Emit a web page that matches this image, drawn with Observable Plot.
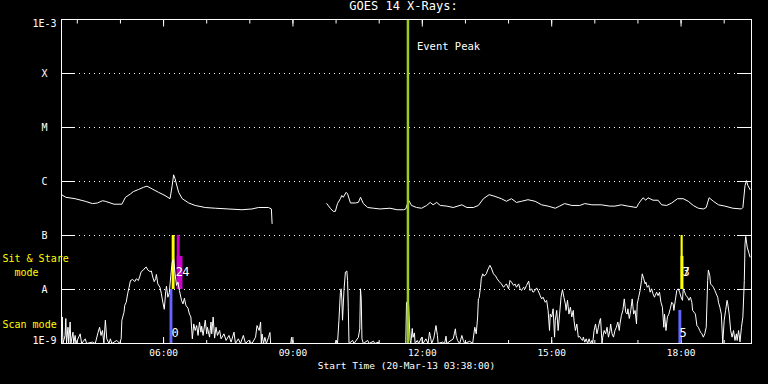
<!DOCTYPE html>
<html><head><meta charset="utf-8">
<script src="https://cdn.jsdelivr.net/npm/d3@7"></script>
<script src="https://cdn.jsdelivr.net/npm/@observablehq/plot@0.6"></script>
<style>
html,body{margin:0;padding:0;background:#000;}
svg text{white-space:pre;}
</style>
</head><body><div id="chart"></div>
<script>
const title = "GOES 14 X-Rays:";
const xLabel = "Start Time (20-Mar-13 03:38:00)";
const day = "2013-03-20";
const startTime = "03:38", endTime = "19:38";
const eventPeak = "11:40";
const eventLabel = "Event Peak";
const yLevels = [1e-9, 1e-8, 1e-7, 1e-6, 1e-5, 1e-4, 1e-3];
const yLabels = ["1E-9", "A", "B", "C", "M", "X", "1E-3"];
const majorTicks = ["06:00", "09:00", "12:00", "15:00", "18:00"];
const minorTicks = ["04:00","05:00","06:00","07:00","08:00","09:00","10:00","11:00","12:00","13:00","14:00","15:00","16:00","17:00","18:00","19:00"];

// GOES 1-8 A channel (upper curve): [time, flux W/m2]
const longChannel = [
["03:38",5.7e-7],["03:44",5.1e-7],["03:57",4.8e-7],["04:11",4.3e-7],["04:21",3.9e-7],["04:28",4.0e-7],
["04:35",4.4e-7],["04:39",4.3e-7],["04:51",3.8e-7],["05:02",3.8e-7],["05:07",5.1e-7],["05:14",5.9e-7],
["05:18",6.5e-7],["05:25",7.1e-7],["05:32",7.8e-7],["05:37",8.2e-7],["05:44",7.3e-7],["05:53",6.3e-7],
["06:02",5.5e-7],["06:09",4.8e-7],["06:12",8.4e-7],["06:14",1.33e-6],["06:16",1.12e-6],["06:21",6.3e-7],
["06:26",4.8e-7],["06:35",4.0e-7],["06:44",3.6e-7],["06:58",3.3e-7],["07:12",3.2e-7],["07:30",3.1e-7],
["07:49",3.0e-7],["08:03",3.1e-7],["08:12",3.3e-7],["08:26",3.3e-7],["08:30",3.1e-7],["08:31",1.67e-7],
["08:32",null],
["09:47",3.9e-7],["09:52",3.2e-7],["09:56",2.8e-7],["09:59",2.8e-7],["10:02",3.9e-7],["10:06",4.8e-7],
["10:08",5.5e-7],["10:10",5.1e-7],["10:14",6.3e-7],["10:16",5.9e-7],["10:20",4.0e-7],["10:27",4.0e-7],
["10:31",4.1e-7],["10:34",5.1e-7],["10:38",3.9e-7],["10:44",3.3e-7],["10:52",3.2e-7],["11:01",3.1e-7],
["11:15",3.2e-7],["11:25",3.0e-7],["11:34",3.0e-7],["11:37",3.1e-7],["11:41",4.5e-7],["11:45",3.6e-7],
["11:52",3.3e-7],["11:59",3.2e-7],["12:06",3.6e-7],["12:11",4.1e-7],["12:15",3.7e-7],["12:20",4.1e-7],
["12:25",3.6e-7],["12:34",3.5e-7],["12:43",3.3e-7],["12:55",3.7e-7],["13:02",3.3e-7],["13:11",3.3e-7],
["13:18",3.6e-7],["13:25",4.8e-7],["13:33",5.7e-7],["13:41",5.3e-7],["13:50",4.8e-7],["13:57",4.3e-7],
["14:04",4.8e-7],["14:11",4.1e-7],["14:18",4.3e-7],["14:27",4.6e-7],["14:37",4.3e-7],["14:46",3.7e-7],
["14:55",3.5e-7],["15:05",3.2e-7],["15:11",3.5e-7],["15:18",3.9e-7],["15:28",3.6e-7],["15:39",3.6e-7],
["15:46",3.9e-7],["15:56",3.7e-7],["16:09",3.7e-7],["16:21",3.5e-7],["16:28",3.5e-7],["16:37",3.7e-7],
["16:46",3.5e-7],["16:58",3.3e-7],["17:01",3.9e-7],["17:07",5.0e-7],["17:11",4.5e-7],["17:14",5.0e-7],
["17:21",4.5e-7],["17:28",4.5e-7],["17:33",3.7e-7],["17:40",3.6e-7],["17:47",4.0e-7],["17:55",4.8e-7],
["18:03",4.8e-7],["18:10",4.3e-7],["18:17",3.6e-7],["18:24",3.2e-7],["18:31",3.1e-7],["18:35",3.3e-7],
["18:39",5.0e-7],["18:45",4.3e-7],["18:52",3.7e-7],["19:01",3.5e-7],["19:12",3.2e-7],["19:24",3.1e-7],
["19:26",3.3e-7],["19:29",8.4e-7],["19:31",1.04e-6],["19:33",8.4e-7],["19:36",7.1e-7]
];

// GOES 0.5-4 A channel (lower curve): [time, flux W/m2]
const shortChannel = [
["03:38",1e-9],["03:39",3.1e-9],["03:40",1e-9],["03:43",1.41e-9],["03:44",2.9e-9],["03:45",1e-9],
["03:47",2.0e-9],["03:48",1e-9],["03:50",2.5e-9],["03:51",1e-9],["03:54",1.62e-9],["03:55",1e-9],
["03:57",1.41e-9],["03:58",1e-9],["04:04",1.51e-9],["04:06",1e-9],["04:11",1.22e-9],["04:13",1e-9],
["04:21",1.06e-9],["04:25",1e-9],["04:29",1.62e-9],["04:31",2.0e-9],["04:33",1.41e-9],["04:35",1.74e-9],
["04:37",1e-9],["04:39",2.7e-9],["04:41",1.22e-9],["04:44",1e-9],["04:46",1.22e-9],["04:48",1e-9],
["04:55",1.14e-9],["04:59",1e-9],["05:01",1.22e-9],["05:02",2.7e-9],["05:05",3.8e-9],["05:06",5.1e-9],
["05:08",5.8e-9],["05:10",8.3e-9],["05:12",1.1e-8],["05:14",1.47e-8],["05:17",1.53e-8],["05:20",1.4e-8],
["05:22",1.58e-8],["05:25",1.47e-8],["05:27",1.77e-8],["05:29",2.15e-8],["05:32",2.3e-8],["05:34",2.5e-8],
["05:36",2.6e-8],["05:38",2.3e-8],["05:41",2.15e-8],["05:43",2.2e-8],["05:45",1.7e-8],["05:47",1.4e-8],
["05:49",1.58e-8],["05:50",1.9e-8],["05:52",1.27e-8],["05:55",1.1e-8],["05:57",8.3e-9],["05:59",5.8e-9],
["06:01",4.3e-9],["06:03",9.2e-9],["06:04",1.15e-8],["06:06",7.2e-9],["06:08",8.7e-9],["06:10",1.8e-8],
["06:12",3.2e-8],["06:14",3.7e-8],["06:16",1.95e-8],["06:18",1.19e-8],["06:20",1.37e-8],["06:22",9.6e-9],
["06:25",6.3e-9],["06:27",5.4e-9],["06:29",6.9e-9],["06:31",5.1e-9],["06:34",4.5e-9],["06:36",3.5e-9],
["06:38",3.1e-9],["06:40",1.22e-9],["06:42",2.3e-9],["06:44",1.74e-9],["06:46",2.15e-9],["06:48",1.41e-9],
["06:50",2.5e-9],["06:52",1.62e-9],["06:53",2.1e-9],["06:55",1.41e-9],["06:58",2.7e-9],["07:00",1.51e-9],
["07:01",2.0e-9],["07:04",1.31e-9],["07:06",2.5e-9],["07:07",1.51e-9],["07:09",3.1e-9],["07:11",1.26e-9],
["07:13",2.0e-9],["07:15",1.41e-9],["07:18",1.74e-9],["07:20",1.22e-9],["07:24",1.51e-9],["07:27",1.14e-9],
["07:31",1.41e-9],["07:34",1.06e-9],["07:38",1.62e-9],["07:40",1e-9],["07:44",1.22e-9],["07:47",1e-9],
["07:51",1.41e-9],["07:54",1e-9],["07:58",1.14e-9],["08:03",1e-9],["08:08",1.31e-9],["08:10",2.15e-9],
["08:13",1.74e-9],["08:15",2.5e-9],["08:16",1e-9],["08:17",1.5e-9],["08:19",1e-9],["08:21",1.3e-9],
["08:23",1e-9],["08:26",1.3e-9],["08:28",1.6e-9],["08:29",1e-9],["08:57",1e-9],["08:58",1.3e-9],
["08:59",1e-9],["09:59",1e-9],["10:00",1.14e-9],["10:02",1e-9],["10:04",2.7e-9],["10:06",8.8e-9],
["10:07",1.03e-8],["10:08",6.7e-9],["10:09",2.7e-9],["10:11",9.6e-9],["10:13",2.1e-8],["10:15",2.2e-8],
["10:16",1.47e-8],["10:17",4.7e-9],["10:18",1e-9],["10:23",1.14e-9],["10:25",1e-9],["10:31",1.3e-9],
["10:33",1.87e-9],["10:34",1.03e-8],["10:35",6.7e-9],["10:36",1.22e-9],["10:38",1e-9],["10:44",1.14e-9],
["10:46",1e-9],["10:52",1.1e-9],["10:54",1e-9],["10:59",1.06e-9],["11:00",1e-9],["11:37",1e-9],
["11:38",5.8e-9],["11:39",5.8e-9],["11:41",5.1e-9],["11:43",1.14e-9],["11:44",1e-9],["11:46",1.9e-9],
["11:47",1.3e-9],["11:49",1.57e-9],["11:50",1e-9],["11:53",1.14e-9],["11:55",1e-9],["11:59",1.3e-9],
["12:01",1e-9],["12:05",1.22e-9],["12:08",1e-9],["12:10",1.62e-9],["12:11",1.41e-9],["12:13",1e-9],
["12:16",1.26e-9],["12:19",2.15e-9],["12:21",1.41e-9],["12:22",1e-9],["12:28",1.06e-9],["12:31",1e-9],
["12:33",1.37e-9],["12:34",1e-9],["12:43",1.22e-9],["12:46",1.87e-9],["12:47",1.41e-9],["12:49",1.14e-9],
["12:52",1e-9],["12:55",1.41e-9],["12:57",1.14e-9],["12:59",1e-9],["13:06",1.1e-9],["13:10",1e-9],
["13:13",2.0e-9],["13:15",1.51e-9],["13:17",3.1e-9],["13:18",6.7e-9],["13:19",6.9e-9],["13:21",1.1e-8],
["13:22",1.58e-8],["13:24",1.95e-8],["13:26",1.77e-8],["13:29",1.95e-8],["13:31",2.3e-8],["13:34",2.8e-8],
["13:36",2.5e-8],["13:39",1.95e-8],["13:42",1.77e-8],["13:44",1.58e-8],["13:47",1.4e-8],["13:50",1.27e-8],
["13:53",1.1e-8],["13:55",1.19e-8],["13:57",1.27e-8],["14:00",1.03e-8],["14:02",1.47e-8],["14:04",1.37e-8],
["14:07",1.19e-8],["14:09",1.27e-8],["14:11",1.1e-8],["14:14",1.27e-8],["14:16",1.03e-8],["14:18",9.6e-9],
["14:21",1.1e-8],["14:23",1.03e-8],["14:25",1.19e-8],["14:28",1.43e-8],["14:30",9.6e-9],["14:32",1.03e-8],
["14:34",8.9e-9],["14:37",9.6e-9],["14:39",1.07e-8],["14:41",9.6e-9],["14:44",7.7e-9],["14:46",6.7e-9],
["14:48",7.2e-9],["14:51",5.8e-9],["14:53",6.3e-9],["14:55",4.1e-9],["14:57",1.74e-9],["14:58",3.5e-9],
["15:00",3.1e-9],["15:02",4.4e-9],["15:04",1.31e-9],["15:05",2.7e-9],["15:07",4.1e-9],["15:09",1.74e-9],
["15:11",3.5e-9],["15:13",7.2e-9],["15:15",9.9e-9],["15:17",7.2e-9],["15:19",5.4e-9],["15:20",4.1e-9],
["15:22",6.3e-9],["15:24",3.5e-9],["15:26",4.7e-9],["15:28",3.1e-9],["15:30",4.1e-9],["15:31",2.7e-9],
["15:33",1.74e-9],["15:35",2.3e-9],["15:37",1.31e-9],["15:39",1.35e-9],["15:41",1.22e-9],["15:43",1.14e-9],
["15:44",1.31e-9],["15:46",1.06e-9],["15:48",1.22e-9],["15:50",1e-9],["15:52",1.22e-9],["15:54",1e-9],
["15:56",1.14e-9],["15:57",1e-9],["15:59",1.74e-9],["16:01",2.3e-9],["16:03",1.51e-9],["16:05",2.0e-9],
["16:07",2.7e-9],["16:08",2.9e-9],["16:10",1e-9],["16:11",1.31e-9],["16:13",1.74e-9],["16:15",1.51e-9],
["16:17",2.0e-9],["16:19",1.31e-9],["16:21",1.74e-9],["16:22",2.3e-9],["16:24",1.51e-9],["16:26",1.31e-9],
["16:28",1.74e-9],["16:30",2.0e-9],["16:32",2.5e-9],["16:34",1.74e-9],["16:35",2.3e-9],["16:37",3.3e-9],
["16:39",4.1e-9],["16:41",6.7e-9],["16:43",3.8e-9],["16:45",3.5e-9],["16:46",4.4e-9],["16:48",2.9e-9],
["16:50",4.1e-9],["16:52",6.7e-9],["16:54",3.5e-9],["16:56",4.1e-9],["16:58",2.3e-9],["16:59",5.4e-9],
["17:01",7.2e-9],["17:03",9.6e-9],["17:05",1.47e-8],["17:06",1.95e-8],["17:08",1.58e-8],["17:10",1.27e-8],
["17:11",1.37e-8],["17:13",1.1e-8],["17:15",1.19e-8],["17:17",8.9e-9],["17:19",1.03e-8],["17:21",8.3e-9],
["17:23",7.2e-9],["17:24",7.7e-9],["17:26",8.9e-9],["17:28",7.7e-9],["17:30",8.9e-9],["17:32",5.8e-9],
["17:34",4.7e-9],["17:36",2.0e-9],["17:37",3.5e-9],["17:39",1.74e-9],["17:41",3.1e-9],["17:43",3.5e-9],
["17:45",4.4e-9],["17:47",5.8e-9],["17:49",5.4e-9],["17:50",4.1e-9],["17:52",6.3e-9],["17:54",9.6e-9],
["17:56",1.03e-8],["17:58",8.9e-9],["18:00",7.2e-9],["18:02",6.3e-9],["18:03",1.03e-8],["18:05",8.9e-9],
["18:07",7.7e-9],["18:09",7.2e-9],["18:11",6.3e-9],["18:13",7.2e-9],["18:15",5.8e-9],["18:16",4.1e-9],
["18:18",3.8e-9],["18:20",3.5e-9],["18:22",2.15e-9],["18:24",2.0e-9],["18:26",1.74e-9],["18:27",1.62e-9],
["18:29",1.51e-9],["18:31",1.31e-9],["18:33",1.51e-9],["18:35",2.0e-9],["18:37",1.47e-8],["18:38",2.3e-8],
["18:40",1.8e-8],["18:41",1.27e-8],["18:43",1.19e-8],["18:45",1.1e-8],["18:47",9.6e-9],["18:49",8.3e-9],
["18:51",7.2e-9],["18:52",5.8e-9],["18:54",4.7e-9],["18:56",3.5e-9],["18:58",1e-9],["19:00",2.7e-9],
["19:02",4.1e-9],["19:04",6.3e-9],["19:05",5.4e-9],["19:07",3.5e-9],["19:09",1.74e-9],["19:11",1.31e-9],
["19:13",1.74e-9],["19:15",1.14e-9],["19:17",1.51e-9],["19:18",1.14e-9],["19:20",1.74e-9],["19:22",1.07e-9],
["19:24",2.0e-9],["19:26",3.1e-9],["19:28",1.47e-8],["19:29",7.0e-8],["19:30",9.6e-8],["19:32",6.1e-8],
["19:34",4.9e-8],["19:36",4.0e-8]
];

// Observation bars: kind, start, end, low flux, high flux
const observations = [
  {kind: "scan", start: "06:09", end: "06:13", low: 1e-9, high: 1e-8},
  {kind: "sitstare1", start: "06:12", end: "06:16", low: 1e-8, high: 1e-7},
  {kind: "sitstare2", start: "06:19", end: "06:23", low: 1e-8, high: 1e-7},
  {kind: "sitstare2", start: "06:19", end: "06:27", low: 1e-8, high: 4.1e-8},
  {kind: "scan", start: "17:57", end: "18:01", low: 1e-9, high: 4.1e-9},
  {kind: "sitstare1", start: "18:00", end: "18:03", low: 1e-8, high: 1e-7},
  {kind: "sitstare1", start: "18:00", end: "18:04", low: 1e-8, high: 4.1e-8}
];
const obsKinds = ["scan", "sitstare1", "sitstare2"];
const obsColors = ["#6464ff", "#ffff00", "#cc00cc"];

const obsLabels = [
  {text: "0", time: "06:16", flux: 1.55e-9},
  {text: "2", time: "06:22", flux: 2.07e-8},
  {text: "4", time: "06:31", flux: 2.07e-8},
  {text: "3", time: "18:07", flux: 2.07e-8},
  {text: "7", time: "18:07", flux: 2.07e-8},
  {text: "5", time: "18:03", flux: 1.55e-9}
];
const modeLabels = [
  {text: "Sit & Stare", flux: 3.75e-8},
  {text: "  mode", flux: 2.07e-8},
  {text: "Scan mode", flux: 2.25e-9}
];

const T = s => new Date(`${day}T${s}:00Z`);
const fmt = d3.utcFormat("%H:%M");

const chart = Plot.plot({
  width: 768,
  height: 384,
  marginLeft: 61,
  marginRight: 17,
  marginTop: 19,
  marginBottom: 41,
  style: {background: "#000", color: "#fff", fontFamily: "DejaVu Sans Mono", fontSize: "10px"},
  x: {type: "utc", domain: [T(startTime), T(endTime)], axis: null},
  y: {type: "log", domain: [yLevels[0], yLevels[yLevels.length - 1]], axis: null},
  color: {domain: obsKinds, range: obsColors},
  marks: [
    Plot.ruleY(yLevels.slice(1, -1), {stroke: "#fff", strokeWidth: 1, strokeDasharray: "1,4", insetLeft: 13, insetRight: 15}),
    Plot.axisY(yLevels, {anchor: "left", tickSize: -13, fill: "none", stroke: "#fff", label: null}),
    Plot.axisY(yLevels, {anchor: "right", tickSize: -15, fill: "none", stroke: "#fff", label: null}),
    Plot.axisX(minorTicks.map(T), {anchor: "bottom", tickSize: -3, fill: "none", stroke: "#fff", label: null}),
    Plot.axisX(majorTicks.map(T), {anchor: "bottom", tickSize: -6, fill: "none", stroke: "#fff", label: null}),
    Plot.axisX(minorTicks.map(T), {anchor: "top", tickSize: -3.5, fill: "none", stroke: "#fff", label: null}),
    Plot.axisX(majorTicks.map(T), {anchor: "top", tickSize: -6.5, fill: "none", stroke: "#fff", label: null}),
    Plot.rect(observations, {x1: d => T(d.start), x2: d => T(d.end), y1: "low", y2: "high", fill: "kind"}),
    Plot.line(longChannel, {x: d => T(d[0]), y: d => d[1], stroke: "#fff", strokeWidth: 1, clip: true}),
    Plot.line(shortChannel, {x: d => T(d[0]), y: d => d[1], stroke: "#fff", strokeWidth: 1, clip: true}),
    Plot.ruleX([T(eventPeak)], {stroke: "#9acd1e", strokeWidth: 2.5}),
    Plot.text([eventLabel], {x: () => T(eventPeak), frameAnchor: "top", dx: 9, dy: 23, textAnchor: "start", fill: "#fff", fontSize: 10.5}),
    Plot.text(obsLabels, {x: d => T(d.time), y: "flux", text: "text", fill: "#fff", fontSize: 12}),
    Plot.text(modeLabels, {y: "flux", text: "text", frameAnchor: "left", dx: -59, textAnchor: "start", fill: "#ffff00", fontSize: 10}),
    Plot.frame({stroke: "#fff"}),
    Plot.text(yLevels.slice(1, -1), {y: d => d, text: (d, i) => yLabels[i + 1], frameAnchor: "left", dx: -17, textAnchor: "middle", fill: "#fff", fontSize: 10}),
    Plot.text([yLevels[0]], {y: d => d, text: () => yLabels[0], frameAnchor: "left", dx: -17, dy: -3, textAnchor: "middle", fill: "#fff", fontSize: 10}),
    Plot.text([yLevels[yLevels.length - 1]], {y: d => d, text: () => yLabels[yLabels.length - 1], frameAnchor: "left", dx: -17, dy: 4, textAnchor: "middle", fill: "#fff", fontSize: 10}),
    Plot.text(majorTicks, {x: d => T(d), text: d => fmt(T(d)), frameAnchor: "bottom", dy: 12, fill: "#fff", fontSize: 9.5}),
    Plot.text([xLabel], {frameAnchor: "bottom", dy: 25, fill: "#fff", fontSize: 9.5}),
    Plot.text([title], {frameAnchor: "top", dx: -3, dy: -10, lineAnchor: "bottom", fill: "#fff", fontSize: 12})
  ]
});
document.getElementById("chart").append(chart);
</script>
</body></html>
